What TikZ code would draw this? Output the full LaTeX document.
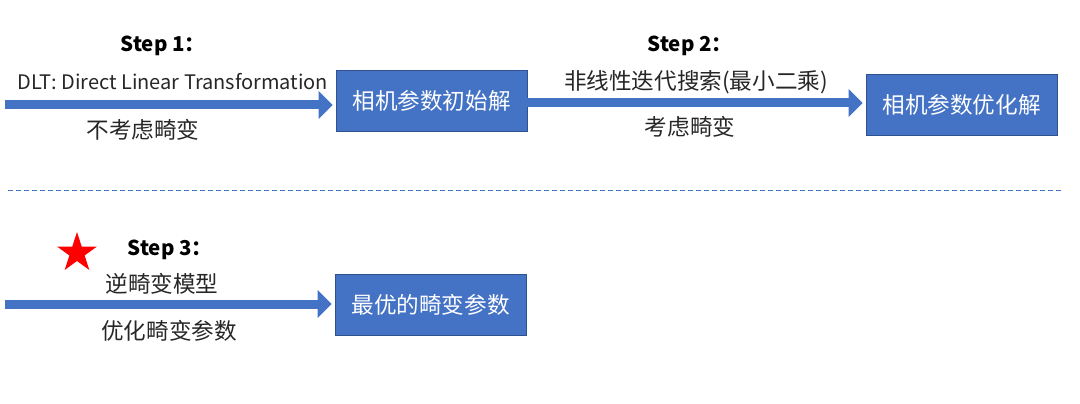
\documentclass[tikz,border=0pt]{standalone}
\usepackage{fontspec}
\setmainfont{Noto Sans CJK SC}
\usetikzlibrary{arrows.meta,shapes.geometric}
\definecolor{boxblue}{HTML}{4472C4}
\definecolor{boxedge}{HTML}{2F528F}
\definecolor{txt}{HTML}{262626}
\tikzset{
  box/.style={fill=boxblue, draw=boxedge, line width=0.8pt, minimum width=191pt, minimum height=61pt, inner sep=0pt, text=white, font=\fontsize{22.6}{26}\selectfont},
  arr/.style={draw=boxblue, line width=9pt, -{Triangle[length=14pt,width=27pt]}, shorten >=3pt},
  lbl/.style={text=txt, inner sep=0pt, font=\fontsize{22.6}{26}\selectfont},
  latinlbl/.style={text=txt, inner sep=0pt, font=\fontsize{20}{24}\selectfont},
  steplbl/.style={text=black, inner sep=0pt, font=\bfseries\fontsize{20.5}{24}\selectfont},
  sepline/.style={draw=boxblue, line width=1pt, dash pattern=on 5pt off 3pt},
  mystar/.style={star, star points=5, star point ratio=2.618, fill=red, minimum size=42pt, inner sep=0pt}
}
\begin{document}
\begin{tikzpicture}[x=1pt,y=-1pt]
\useasboundingbox (0,0) rectangle (1080,404);
% boxes
\node[box] (b1) at (431.5,101) {相机参数初始解};
\node[box] (b2) at (961.5,104.5) {相机参数优化解};
\node[box] (b3) at (430.5,304.5) {最优的畸变参数};
% free ends
\coordinate (s1) at (5,105);
\coordinate (s3) at (5,304);
% arrows
\draw[arr] (s1) -- (s1 -| b1.west);
\draw[arr] ([yshift=-2pt]b1.east) -- ([yshift=1.5pt]b2.west);
\draw[arr] (s3) -- (s3 -| b3.west);
% labels step 1
\node[steplbl] (t1) at (163,46) {Step 1：};
\node[latinlbl] (l1a) at (173,82) {DLT: Direct Linear Transformation};
\node[lbl] (l1b) at (143,130) {不考虑畸变};
% labels step 2
\node[steplbl] (t2) at (690,46) {Step 2：};
\node[lbl] (l2a) at (696,82) {非线性迭代搜索(最小二乘)};
\node[lbl] (l2b) at (690,127) {考虑畸变};
% separator
\coordinate (d1) at (8,190);
\coordinate (d2) at (1062,190);
\draw[sepline] (d1) -- (d2);
% step 3
\node[mystar] (st) at (77,253) {};
\node[steplbl] (t3) at (170,250) {Step 3：};
\node[lbl] (l3a) at (162,284) {逆畸变模型};
\node[lbl] (l3b) at (169,331) {优化畸变参数};
\end{tikzpicture}
\end{document}
